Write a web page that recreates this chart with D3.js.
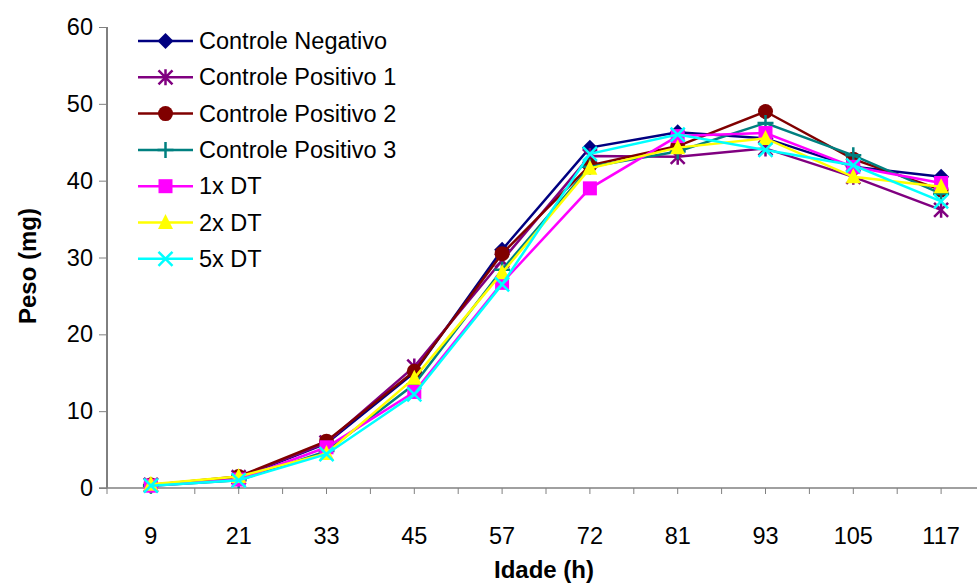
<!DOCTYPE html>
<html>
<head>
<meta charset="utf-8">
<script src="https://cdn.jsdelivr.net/npm/d3@7"></script>
<style>
  body { margin: 0; background: #fff; }
  svg { display: block; font-family: "Liberation Sans", Arial, sans-serif; }
</style>
</head>
<body>
<svg id="chart" width="977" height="583"></svg>
<script>
// Hours (x categories)
const idade = ["9", "21", "33", "45", "57", "72", "81", "93", "105", "117"];

// Peso (mg) per series
const controleNegativo = [0.4, 1.3, 5.8, 15.0, 31.0, 44.3, 46.3, 45.5, 41.8, 40.5];
const controlePositivo1 = [0.4, 1.4, 5.9, 15.8, 29.6, 43.2, 43.1, 44.2, 40.5, 36.2];
const controlePositivo2 = [0.4, 1.5, 6.1, 15.2, 30.5, 42.0, 44.5, 49.0, 42.8, 38.8];
const controlePositivo3 = [0.3, 1.0, 4.8, 13.5, 28.4, 41.8, 43.8, 47.5, 43.3, 38.3];
const dt1x = [0.3, 1.1, 5.3, 12.5, 26.7, 39.0, 45.8, 46.2, 41.8, 39.7];
const dt2x = [0.5, 1.5, 4.5, 14.3, 28.0, 41.6, 44.3, 45.5, 40.5, 39.2];
const dt5x = [0.3, 1.0, 4.4, 12.2, 26.5, 43.5, 46.0, 44.0, 42.0, 37.3];

const yTicks = [0, 10, 20, 30, 40, 50, 60];

const seriesNames = ["Controle Negativo", "Controle Positivo 1", "Controle Positivo 2",
  "Controle Positivo 3", "1x DT", "2x DT", "5x DT"];

const series = [
  { name: seriesNames[0], values: controleNegativo, color: "#000080", marker: "diamond" },
  { name: seriesNames[1], values: controlePositivo1, color: "#800080", marker: "asterisk" },
  { name: seriesNames[2], values: controlePositivo2, color: "#800000", marker: "circle" },
  { name: seriesNames[3], values: controlePositivo3, color: "#008080", marker: "plus" },
  { name: seriesNames[4], values: dt1x, color: "#FF00FF", marker: "square" },
  { name: seriesNames[5], values: dt2x, color: "#FFFF00", marker: "triangle" },
  { name: seriesNames[6], values: dt5x, color: "#00FFFF", marker: "cross" }
];

const svg = d3.select("#chart");

// plot area (right side runs past the window like the original)
const plotLeft = 107, plotRight = 985, plotTop = 27, plotBottom = 488;
const labelSize = 23.5;

const x = d3.scaleBand().domain(idade).range([plotLeft, plotRight]);
const y = d3.scaleLinear().domain([0, 60]).range([plotBottom, plotTop]);

// y axis
const yAxis = svg.append("g")
  .attr("transform", `translate(${plotLeft},0)`)
  .call(d3.axisLeft(y).tickValues(yTicks).tickSize(8).tickPadding(6));
yAxis.select(".domain").attr("stroke", "#000").attr("d", `M0,${plotTop}V${plotBottom}`);
yAxis.selectAll(".tick line").attr("stroke", "#808080");
yAxis.selectAll(".tick text").attr("font-size", labelSize).attr("fill", "#000");

// x axis with ticks at category bounds and centres
const xg = svg.append("g").attr("transform", `translate(0,${plotBottom})`);
xg.append("line").attr("x1", plotLeft - 8).attr("x2", plotRight).attr("stroke", "#808080").attr("stroke-width", 1.5);
const halfTicks = d3.range(0, idade.length * 2 + 1).map(i => plotLeft + i * x.bandwidth() / 2);
xg.selectAll(".xt").data(halfTicks).enter().append("line")
  .attr("x1", d => d).attr("x2", d => d).attr("y1", 0).attr("y2", 6)
  .attr("stroke", "#808080");
xg.selectAll(".xl").data(idade).enter().append("text")
  .attr("x", d => x(d) + x.bandwidth() / 2)
  .attr("y", 56)
  .attr("text-anchor", "middle")
  .attr("font-size", labelSize)
  .text(d => d);

// axis titles
svg.append("text")
  .attr("transform", "translate(36,266) rotate(-90)")
  .attr("text-anchor", "middle")
  .attr("font-size", 24).attr("font-weight", "bold")
  .text("Peso (mg)");
svg.append("text")
  .attr("x", 544).attr("y", 578)
  .attr("text-anchor", "middle")
  .attr("font-size", 24).attr("font-weight", "bold")
  .text("Idade (h)");

// marker drawing
function drawMarker(g, type, color) {
  switch (type) {
    case "diamond":
      g.append("path").attr("d", "M0,-8L8,0L0,8L-8,0Z").attr("fill", color);
      break;
    case "circle":
      g.append("circle").attr("r", 7.5).attr("fill", color);
      break;
    case "square":
      g.append("rect").attr("x", -7).attr("y", -7).attr("width", 14).attr("height", 14).attr("fill", color);
      break;
    case "triangle":
      g.append("path").attr("d", "M0,-8.5L7.5,6.5L-7.5,6.5Z").attr("fill", color);
      break;
    case "plus":
      g.append("path").attr("d", "M-8,0H8M0,-8V8").attr("stroke", color).attr("stroke-width", 2.5);
      break;
    case "cross":
      g.append("path").attr("d", "M-7,-7L7,7M-7,7L7,-7").attr("stroke", color).attr("stroke-width", 2.5);
      break;
    case "asterisk":
      g.append("path").attr("d", "M-7,-7L7,7M-7,7L7,-7M0,-8V8").attr("stroke", color).attr("stroke-width", 2.5);
      break;
  }
}

const line = d3.line()
  .x((d, i) => x(idade[i]) + x.bandwidth() / 2)
  .y(d => y(d));

series.forEach(s => {
  const g = svg.append("g");
  g.append("path")
    .attr("d", line(s.values))
    .attr("fill", "none")
    .attr("stroke", s.color)
    .attr("stroke-width", 2.5);
  s.values.forEach((v, i) => {
    const m = g.append("g")
      .attr("transform", `translate(${x(idade[i]) + x.bandwidth() / 2},${y(v)})`);
    drawMarker(m, s.marker, s.color);
  });
});

// legend
const legend = svg.append("g").attr("transform", "translate(138,41)");
series.forEach((s, i) => {
  const row = legend.append("g").attr("transform", `translate(0,${i * 36.3})`);
  row.append("line").attr("x1", 0).attr("x2", 55).attr("stroke", s.color).attr("stroke-width", 2.5);
  const m = row.append("g").attr("transform", "translate(27.5,0)");
  drawMarker(m, s.marker, s.color);
  row.append("text")
    .attr("x", 61).attr("y", 8)
    .attr("font-size", labelSize)
    .text(s.name);
});
</script>
</body>
</html>
